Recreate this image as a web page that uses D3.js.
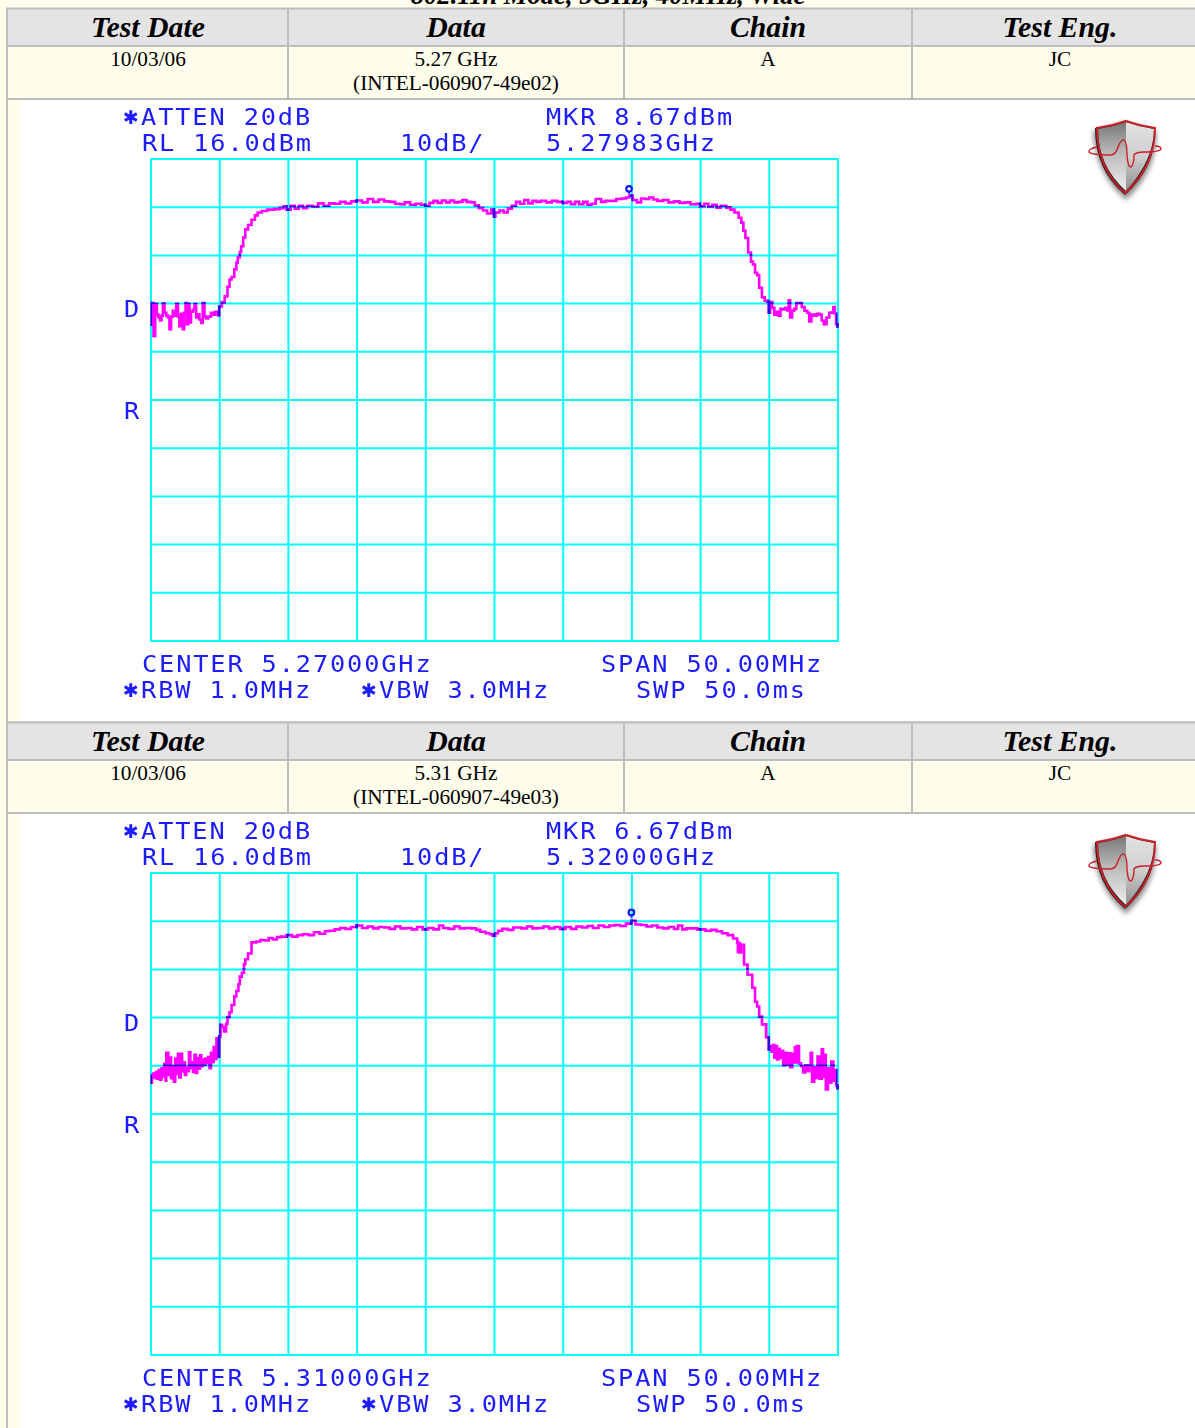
<!DOCTYPE html>
<html><head><meta charset="utf-8">
<script src="https://cdn.jsdelivr.net/npm/d3@7"></script>
<style>
html,body{margin:0;padding:0;background:#fffdeb;overflow:hidden}
svg{display:block}
</style></head><body>
<svg id="page" width="1195" height="1428"></svg>
<script>
const pageTitle = "802.11n Mode, 5GHz, 40MHz, Wide";
const columnHeaders = ["Test Date","Data","Chain","Test Eng."];
const testDates = ["10/03/06","10/03/06"];
const bandLabels = ["5.27 GHz","5.31 GHz"];
const runIds = ["(INTEL-060907-49e02)","(INTEL-060907-49e03)"];
const chains = ["A","A"];
const engineers = ["JC","JC"];
const centerLabels = ["CENTER 5.27000GHz","CENTER 5.31000GHz"];
const markerLevelLabels = ["MKR 8.67dBm","MKR 6.67dBm"];
const markerFreqLabels = ["5.27983GHz","5.32000GHz"];
const markerFreqs = [34.83,35.0];
const markerLevels = [8.67,6.67];

// [MHz from the left edge of the span, dBm]
const trace1 = [[0,-18.5],[.1,-14],[.22,-20.8],[.34,-14.2],[.46,-16.4],[.58,-17],[.7,-17.6],[.8,-16.6],[.9,-14.1],[1.02,-16],[1.15,-16.6],[1.28,-17],[1.38,-19.4],[1.5,-16.8],[1.62,-15.6],[1.75,-16.6],[1.87,-14.2],[2,-16.8],[2.1,-18.8],[2.22,-16.2],[2.35,-19.4],[2.45,-16],[2.55,-14],[2.65,-18.4],[2.75,-14.2],[2.84,-18],[2.95,-15.8],[3.08,-15.4],[3.2,-14.2],[3.32,-17],[3.44,-16.3],[3.56,-17.4],[3.69,-18.1],[3.8,-14],[3.93,-16.8],[4.05,-17.2],[4.2,-16.8],[4.4,-16],[4.55,-16.4],[4.7,-15.8],[4.9,-16.5],
[5,-14.7],[5.2,-13.8],[5.4,-12.6],[5.6,-10.6],[5.75,-9.1],[5.9,-8.6],[6.1,-7],[6.25,-5.6],[6.35,-4.5],[6.5,-3.4],[6.6,-2.2],[6.75,-.4],[6.9,1.3],[7.1,2.2],[7.35,3.3],[7.6,4.2],[7.8,4.8],[8.1,5.1],[8.5,5.4],[9,5.5],[9.4,5.7],[9.7,6.1],[9.9,5.4],[10.2,6.2],[10.5,5.6],[10.8,6.2],[11.1,5.7],[11.4,6.2],[11.8,6],[12.2,6.7],[12.6,6.2],[13,6.7],[13.4,6.6],[13.8,7],[14.2,6.7],[14.6,7.1],[15,7.3],[15.4,6.9],[15.8,7.6],[16.2,7],[16.6,7.5],[17,7.1],[17.4,7],[17.8,6.6],
[18.2,6.5],[18.5,6.9],[18.9,6.4],[19.3,6.6],[19.7,6.4],[20,6.2],[20.3,6.8],[20.6,7.2],[20.9,6.8],[21.2,7.3],[21.5,6.9],[21.8,7.3],[22.1,6.9],[22.4,7],[22.7,7.4],[23,7],[23.3,6.9],[23.6,6.3],[23.9,5.7],[24.2,5.2],[24.5,4.6],[24.8,5.4],[25,3.9],[25.1,4.8],[25.4,5.2],[25.7,4.8],[26,5.6],[26.3,6.2],[26.6,7],[26.9,6.6],[27.2,7.4],[27.5,6.7],[27.8,7.2],
[28.1,7],[28.4,7.2],[28.8,6.9],[29.2,7.2],[29.6,7],[30,6.8],[30.3,7],[30.6,6.5],[30.9,7],[31.2,6.5],[31.5,7],[31.8,6.4],[32.1,6.6],[32.4,7.6],[32.8,7],[33.1,7.2],[33.5,7.2],[33.9,7.6],[34.3,7.7],[34.6,7.9],[34.83,8.3],[35.1,7.4],[35.4,6.9],[35.7,7.7],[36,7.6],[36.3,7.9],[36.6,7.5],[36.9,7.2],[37.3,7.4],[37.7,6.9],[38.1,7.1],[38.5,6.8],[38.9,6.9],[39.3,6.5],[39.7,6.6],[40,6.1],[40.3,6.6],[40.6,6],[40.9,6.4],[41.2,5.8],[41.5,6.2],[41.9,5.8],[42.2,5.4],[42.5,4.8],[42.8,3.7],[43,2.7],[43.15,1],[43.3,-.5],[43.5,-3.5],[43.7,-5.4],[43.85,-6],[44,-7.7],[44.15,-8.2],[44.3,-10.8],[44.5,-12.8],[44.7,-13.5],[44.9,-13.7],[45,-16],[45.1,-13.8],[45.25,-15],[45.4,-16.4],[45.55,-15.8],[45.7,-16.6],[45.85,-15.2],[46,-15.3],[46.2,-15],[46.35,-15.5],[46.45,-13.4],[46.55,-17],[46.7,-15.6],[46.85,-15.2],[47,-14],[47.2,-14],[47.4,-14.8],[47.6,-15.6],[47.8,-16],[47.95,-17.8],[48.1,-16.4],[48.3,-16.6],[48.5,-16.2],[48.7,-16.4],[48.85,-17.6],[49,-18.4],[49.2,-17],[49.4,-16],[49.6,-15.9],[49.7,-14.8],[49.8,-16.2],[49.9,-18.4],[50,-19.1]];

const trace2 = [[0,-27.6],[.1,-26.2],[.2,-25.7],[.3,-26.6],[.4,-25.4],[.5,-26.8],[.6,-25],[.7,-27],[.8,-24.6],[.9,-26.3],[1,-23.7],[1.1,-27.2],[1.15,-21.4],[1.3,-26],[1.4,-22.4],[1.5,-26.7],[1.6,-24.2],[1.7,-27.4],[1.8,-22.6],[1.9,-25.8],[2,-21.6],[2.1,-26.5],[2.2,-21.6],[2.3,-25.3],[2.4,-23.4],[2.5,-26],[2.6,-24.5],[2.7,-25.2],[2.8,-21.3],[2.9,-24.6],[3,-23.4],[3.1,-25.4],[3.2,-21.8],[3.3,-25.6],[3.4,-22.5],[3.5,-24.7],[3.6,-21.9],[3.7,-24.2],[3.8,-22.8],[3.9,-23.9],[4,-22.6],[4.1,-23.5],[4.2,-22.3],[4.3,-24.6],[4.4,-21.4],[4.5,-23.3],[4.6,-20.2],[4.7,-22.7],[4.8,-18.4],[4.9,-22.2],
[5,-18],[5.1,-15.6],[5.2,-16],[5.35,-17],[5.5,-15.4],[5.6,-14],[5.75,-13],[5.9,-11.5],[6.1,-9.7],[6.25,-8.6],[6.4,-7.2],[6.5,-5.6],[6.65,-4.8],[6.8,-3],[6.9,-2],[7.1,-.8],[7.35,1.5],[7.7,1.7],[8,2],[8.3,1.9],[8.6,2.4],[8.9,2.1],[9.2,2.6],[9.5,2.7],[9.9,3],[10.3,2.7],[10.7,3],[11.1,3.2],[11.5,3],[11.9,3.6],[12.3,3.3],[12.7,3.8],
[13,3.9],[13.4,4.2],[13.8,4.5],[14.2,4.3],[14.6,4.7],[15,5],[15.4,4.5],[15.8,4.8],[16.2,4.4],[16.6,4.7],[17,4.6],[17.4,4.3],[17.8,4.8],[18.2,4.4],[18.6,4.5],[19,4.2],[19.4,4.7],[19.8,4.2],[20.2,4.5],[20.6,4.2],[21,5],[21.3,4.5],[21.7,4.3],[22.1,4.8],[22.5,4.4],[22.9,4.5],[23.3,4.4],[23.7,4.1],[24,3.7],[24.4,3.4],[24.7,3.2],[24.9,2.9],[25.1,3.4],[25.3,3.9],[25.6,4.3],[26,4.1],[26.4,4.6],
[27,4.4],[27.4,4.8],[27.8,4.4],[28.2,4.5],[28.6,4.8],[29,4.4],[29.4,4.7],[29.8,4.3],[30.2,4.7],[30.6,4.3],[31,4.8],[31.4,4.6],[31.8,4.9],[32.2,4.5],[32.6,5],[33,4.7],[33.4,5],[33.8,5.1],[34.2,4.9],[34.6,5.4],[35,6],[35.3,5.2],[35.7,5.1],[36.1,4.8],[36.5,5],[36.9,4.6],[37.3,4.4],[37.7,4.7],[38.1,4.3],[38.4,5],[38.7,4.2],[39,4.4],[39.4,4.4],[39.8,4.2],[40,4.2],[40.4,3.9],[40.8,4.1],[41.2,3.8],[41.6,3.4],[42,3],[42.4,2.3],[42.7,1.5],[42.75,-.5],[42.8,1.4],[42.85,-.6],[42.9,1.2],[42.95,-.6],[43,1],[43.2,-3.1],[43.45,-5.2],[43.8,-7.9],[44,-10.8],[44.15,-11.8],[44.3,-13.9],[44.5,-15.5],[44.8,-18.2],[45,-20.7],
[45.1,-20],[45.2,-21.2],[45.3,-19.8],[45.4,-22.4],[45.5,-20],[45.6,-22.8],[45.7,-20.6],[45.8,-22.5],[45.95,-21],[46.05,-24],[46.2,-21.4],[46.3,-23.8],[46.45,-21.5],[46.55,-24.4],[46.7,-21.6],[46.8,-23.4],[46.9,-20.2],[47,-23.4],[47.05,-20],[47.2,-23.6],[47.35,-24.2],[47.5,-25.5],[47.65,-24],[47.8,-25.2],[47.95,-24],[48.05,-21.4],[48.15,-27.4],[48.3,-24.4],[48.4,-26.6],[48.55,-22.2],[48.7,-26.8],[48.85,-20.7],[48.95,-26.4],[49.05,-21.8],[49.15,-29],[49.3,-24.6],[49.45,-27.6],[49.55,-23.2],[49.7,-27.2],[49.8,-25],[49.9,-28.2],[50,-29]];

const spectra = [trace1, trace2];

const rowOffset = 714;
const svg = d3.select("#page");
const defs = svg.append("defs");
defs.append("filter").attr("id","soft").attr("x","-5%").attr("y","-5%").attr("width","110%").attr("height","110%")
  .append("feGaussianBlur").attr("stdDeviation",0.4);
defs.append("filter").attr("id","logoBlur").append("feGaussianBlur").attr("stdDeviation",0.5);
defs.append("filter").attr("id","shadowBlur").attr("x","-40%").attr("y","-40%").attr("width","180%").attr("height","180%")
  .append("feGaussianBlur").attr("stdDeviation",2.6);
const lg = defs.append("linearGradient").attr("id","shieldL").attr("x1",0).attr("x2",0).attr("y1",0).attr("y2",1);
lg.append("stop").attr("offset",0).attr("stop-color","#777");
lg.append("stop").attr("offset",.45).attr("stop-color","#bbb");
lg.append("stop").attr("offset",1).attr("stop-color","#eee");
const rg = defs.append("linearGradient").attr("id","shieldR").attr("x1",0).attr("x2",0).attr("y1",0).attr("y2",1);
rg.append("stop").attr("offset",0).attr("stop-color","#e2e2e2");
rg.append("stop").attr("offset",.5).attr("stop-color","#cfcfcf");
rg.append("stop").attr("offset",1).attr("stop-color","#8f8f8f");

const border = "#bdbdbd";
const serif = "'Liberation Serif','Times New Roman',serif";
const colEdges = [7,288,624,912,1195];
const colCenters = [148,456,768,1060];

svg.append("text").attr("x",608).attr("y",3.5).attr("text-anchor","middle")
  .attr("font-family",serif).attr("font-weight","bold").attr("font-style","italic")
  .attr("font-size",26.6).attr("fill","#000").text(pageTitle);

const mono = "'DejaVu Sans Mono',monospace";
const pitch = 17.1, glyphStretch = 1.1, monoSize = 23;

function label(g,x,y,str){
  if(str[0]==="*"){
    g.append("text").attr("x",x-1).attr("y",y-1).attr("font-family","'DejaVu Sans',sans-serif")
     .attr("font-size",19).attr("fill","#1a1aff").text("\u2731");
    x += pitch; str = str.slice(1);
  }
  g.append("text").attr("transform",`translate(${x},${y}) scale(${glyphStretch},1)`)
   .attr("font-family",mono).attr("font-size",monoSize).attr("fill","#1a1aff")
   .attr("letter-spacing",pitch/glyphStretch-monoSize*0.602)
   .attr("xml:space","preserve").text(str);
}

spectra.forEach((trace,i)=>{
  const g = svg.append("g").attr("transform",`translate(0,${i*rowOffset})`);
  g.append("rect").attr("x",21).attr("y",100).attr("width",1174).attr("height",622).attr("fill","#fff");
  g.append("rect").attr("x",7).attr("y",9).attr("width",1188).attr("height",37).attr("fill","#e4e4e4");
  const hline=[8.5,46,99,722.5];
  hline.forEach((y,k)=>{ if(i===1 && k===3) return; g.append("line").attr("x1",6).attr("x2",1195).attr("y1",y).attr("y2",y).attr("stroke",border).attr("stroke-width",2); });
  colEdges.slice(1,4).forEach(x=>g.append("line").attr("x1",x).attr("x2",x).attr("y1",9).attr("y2",99).attr("stroke",border).attr("stroke-width",2));
  g.append("line").attr("x1",7).attr("x2",7).attr("y1",8).attr("y2",723).attr("stroke",border).attr("stroke-width",2);

  columnHeaders.forEach((h,k)=>g.append("text").attr("x",colCenters[k]).attr("y",36.5).attr("text-anchor","middle")
     .attr("font-family",serif).attr("font-weight","bold").attr("font-style","italic").attr("font-size",29.8).text(h));
  const cells=[testDates[i],bandLabels[i],chains[i],engineers[i]];
  cells.forEach((c,k)=>g.append("text").attr("x",colCenters[k]).attr("y",66).attr("text-anchor","middle")
     .attr("font-family",serif).attr("font-size",21.3).text(c));
  g.append("text").attr("x",colCenters[1]).attr("y",90).attr("text-anchor","middle")
     .attr("font-family",serif).attr("font-size",21.3).text(runIds[i]);

  const plot = g.append("g").attr("filter","url(#soft)");
  const x = d3.scaleLinear().domain([0,50]).range([150.5,837.5]);
  const y = d3.scaleLinear().domain([16,-84]).range([158.5,640.5]);
  const xAxis = d3.axisBottom(x).tickValues(d3.range(0,51,5)).tickSize(-482).tickFormat("");
  const yAxis = d3.axisLeft(y).tickValues(d3.range(16,-85,-10)).tickSize(-687).tickFormat("");
  const gx = plot.append("g").attr("transform","translate(0,640.5)").call(xAxis);
  const gy = plot.append("g").attr("transform","translate(150.5,0)").call(yAxis);
  [gx,gy].forEach(a=>{
    a.selectAll("line").attr("stroke","#00ffff").attr("stroke-width",2);
    a.select(".domain").attr("stroke","#00ffff").attr("stroke-width",2);
  });

  const line = d3.line().x(d=>x(d[0])).y(d=>y(d[1])).curve(d3.curveStepAfter);
  plot.append("path").attr("d",line(trace)).attr("fill","none").attr("stroke","#ff00ff")
      .attr("stroke-width",2.6).attr("stroke-linejoin","miter");
  const clipId = "cross"+i;
  const clip = defs.append("clipPath").attr("id",clipId);
  d3.range(0,51,5).forEach(f=>clip.append("rect").attr("x",x(f)-1.5).attr("y",150).attr("width",3).attr("height",500));
  d3.range(16,-85,-10).forEach(l=>clip.append("rect").attr("x",140).attr("y",y(l)-.9).attr("width",710).attr("height",1.8));
  plot.append("g").attr("clip-path",`url(#${clipId})`).append("path").attr("d",line(trace))
      .attr("fill","none").attr("stroke","#2a10e0").attr("stroke-width",2.6);
  plot.append("circle").attr("cx",x(markerFreqs[i])).attr("cy",y(markerLevels[i])-5).attr("r",2.8)
      .attr("fill","none").attr("stroke","#1414f0").attr("stroke-width",2.2);
  plot.append("line").attr("x1",x(markerFreqs[i])).attr("x2",x(markerFreqs[i]))
      .attr("y1",y(markerLevels[i])-2.5).attr("y2",y(markerLevels[i])).attr("stroke","#1414f0").attr("stroke-width",1.8);

  const t = plot.append("g");
  label(t,124,125,"*ATTEN 20dB");
  label(t,142,151,"RL 16.0dBm");
  label(t,400,151,"10dB/");
  label(t,546,125,markerLevelLabels[i]);
  label(t,546,151,markerFreqLabels[i]);
  label(t,124,317,"D");
  label(t,124,419,"R");
  label(t,142,672,centerLabels[i]);
  label(t,601,672,"SPAN 50.00MHz");
  label(t,124,698,"*RBW 1.0MHz");
  label(t,362,698,"*VBW 3.0MHz");
  label(t,636,698,"SWP 50.0ms");

  const logo = g.append("g").attr("filter","url(#logoBlur)");
  logo.append("path").attr("d","M1093 131 Q1110 128 1124 122 Q1140 128 1156 131 Q1158 170 1126 200 Q1095 174 1093 131Z")
      .attr("fill","#444").attr("opacity",.6).attr("filter","url(#shadowBlur)");
  logo.append("path").attr("d","M1095 128 Q1112 126 1126 121 Q1140 126 1155 128 Q1157 166 1125 195 Q1095 170 1095 128Z").attr("fill","#1c1c1c");
  logo.append("path").attr("d","M1098 129 Q1112 127 1126 122 L1126 191 Q1098 166 1098 129Z").attr("fill","url(#shieldL)");
  logo.append("path").attr("d","M1126 122 Q1140 127 1154 129 Q1154 160 1126 191Z").attr("fill","url(#shieldR)");
  logo.append("path").attr("d","M1097 128 Q1112 126 1126 121 Q1140 126 1155 128 Q1155 166 1125 193 Q1097 168 1097 128Z")
      .attr("fill","none").attr("stroke","#c8202a").attr("stroke-width",2);
  logo.append("path").attr("d","M1097 147 Q1088 149 1089 152 Q1092 155 1110 155 Q1116 155 1118 147 Q1121 139 1124 140 Q1127 142 1127 155 Q1128 168 1131 167 Q1134 165 1134 155 Q1136 152 1144 152 Q1160 152 1161 149 Q1161 146 1155 146")
      .attr("fill","none").attr("stroke","#c8202a").attr("stroke-width",1.4);
});
</script>
</body></html>
